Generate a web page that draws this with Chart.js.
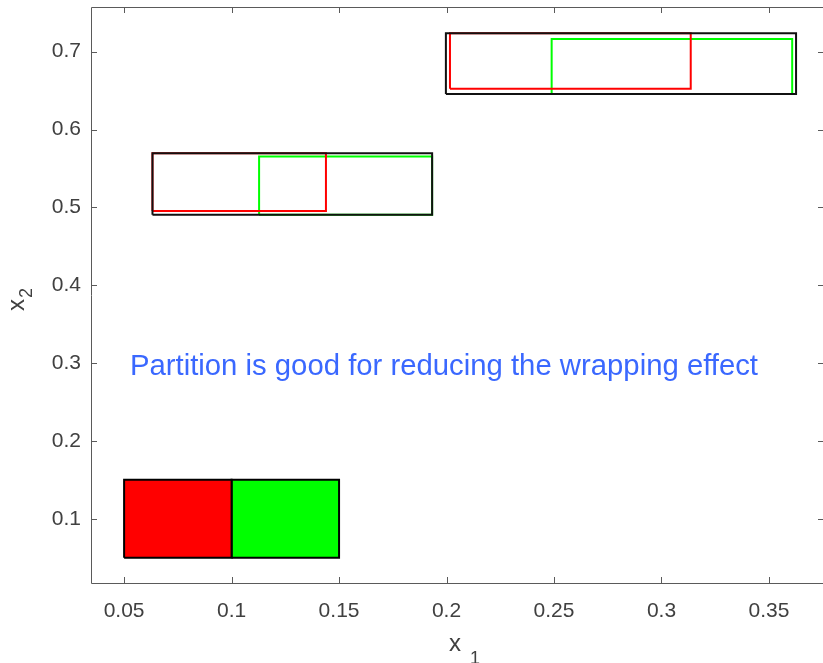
<!DOCTYPE html>
<html>
<head>
<meta charset="utf-8">
<script src="https://cdn.jsdelivr.net/npm/chart.js@4.4.1/dist/chart.umd.min.js"></script>
<style>
  html, body { margin: 0; padding: 0; background: #ffffff; overflow: hidden; }
  #wrap { width: 830px; height: 663px; }
</style>
</head>
<body>
<div id="wrap"><canvas id="c" width="830" height="663"></canvas></div>
<script>
// ---- data ----
// rectangles as [xMin, xMax, yMin, yMax]
const initialRed   = [0.05, 0.10, 0.05, 0.15];
const initialGreen = [0.10, 0.15, 0.05, 0.15];
const step1Black = [0.0632, 0.1933, 0.4905, 0.5696];
const step1Red   = [0.0632, 0.1439, 0.4955, 0.5696];
const step1Green = [0.1128, 0.1933, 0.4905, 0.5652];
const step2Black = [0.1997, 0.3626, 0.6457, 0.7236];
const step2Red   = [0.2016, 0.3136, 0.6525, 0.7236];
const step2Green = [0.2489, 0.3608, 0.6457, 0.7163];

const xTicks = [0.05, 0.1, 0.15, 0.2, 0.25, 0.3, 0.35];
const yTicks = [0.1, 0.2, 0.3, 0.4, 0.5, 0.6, 0.7];
const xRange = [0.0346, 0.3756];
const yRange = [0.0175, 0.7574];

const noteText = 'Partition is good for reducing the wrapping effect';
const notePos = { x: 0.0527, y: 0.285 };
const xTitle = ['x', '1'];
const yTitle = ['x', '2'];

// ---- styling ----
const axisColor = '#5a5a5a';
const tickColor = '#404040';
const fontFamily = '"Liberation Sans", Arial, sans-serif';

function rectPts(r) {
  return [
    { x: r[0], y: r[2] }, { x: r[1], y: r[2] },
    { x: r[1], y: r[3] }, { x: r[0], y: r[3] },
    { x: r[0], y: r[2] }
  ];
}
function outline(r, color) {
  return { data: rectPts(r), showLine: true, borderColor: color, borderWidth: 2,
           pointRadius: 0, fill: false, tension: 0 };
}
function filled(r, color) {
  return { data: rectPts(r), showLine: true, borderColor: '#000000', borderWidth: 2,
           backgroundColor: color, pointRadius: 0, fill: 'shape', tension: 0 };
}

const framePlugin = {
  id: 'frame',
  afterDatasetsDraw(chart) {
    const { ctx, chartArea: a, scales: { x, y } } = chart;
    ctx.save();
    ctx.strokeStyle = axisColor;
    ctx.lineWidth = 1;
    ctx.beginPath();
    ctx.rect(a.left + 0.5, a.top + 0.5, a.right - a.left, a.bottom - a.top);
    const tl = 6;
    xTicks.forEach(v => {
      const p = Math.round(x.getPixelForValue(v)) + 0.5;
      ctx.moveTo(p, a.bottom); ctx.lineTo(p, a.bottom - tl);
      ctx.moveTo(p, a.top); ctx.lineTo(p, a.top + tl);
    });
    yTicks.forEach(v => {
      const p = Math.round(y.getPixelForValue(v)) + 0.5;
      ctx.moveTo(a.left, p); ctx.lineTo(a.left + tl, p);
      ctx.moveTo(a.right, p); ctx.lineTo(a.right - tl, p);
    });
    ctx.stroke();

    // annotation text
    ctx.fillStyle = '#3a68ff';
    ctx.font = '29.3px ' + fontFamily;
    ctx.textAlign = 'left';
    ctx.textBaseline = 'alphabetic';
    ctx.fillText(noteText, x.getPixelForValue(notePos.x), y.getPixelForValue(notePos.y));

    // axis titles with subscripts
    ctx.fillStyle = tickColor;
    ctx.textBaseline = 'alphabetic';
    ctx.font = '24px ' + fontFamily;
    ctx.textAlign = 'left';
    ctx.fillText(xTitle[0], 449, 651);
    ctx.font = '18px ' + fontFamily;
    ctx.fillText(xTitle[1], 470, 664);
    ctx.translate(24, 311);
    ctx.rotate(-Math.PI / 2);
    ctx.font = '24px ' + fontFamily;
    ctx.fillText(yTitle[0], 0, 0);
    ctx.font = '18px ' + fontFamily;
    ctx.fillText(yTitle[1], 13, 8);
    ctx.restore();
  }
};

new Chart(document.getElementById('c'), {
  type: 'scatter',
  data: {
    datasets: [
      outline(step1Black, '#111111'),
      outline(step2Black, '#111111'),
      outline(step1Red, '#ff0000'),
      outline(step2Red, '#ff0000'),
      outline(step1Green, '#00ff00'),
      outline(step2Green, '#00ff00'),
      filled(initialRed, '#ff0000'),
      filled(initialGreen, '#00ff00')
    ]
  },
  options: {
    responsive: false,
    animation: false,
    events: [],
    layout: { padding: { top: 7, right: 6, left: 0, bottom: 0 } },
    plugins: { legend: { display: false }, tooltip: { enabled: false } },
    scales: {
      x: {
        type: 'linear', min: xRange[0], max: xRange[1],
        grid: { display: false, drawTicks: false },
        border: { display: false },
        afterBuildTicks: s => { s.ticks = xTicks.map(v => ({ value: v })); },
        afterFit: s => { s.height = 80; s.paddingLeft = 0; s.paddingRight = 0; },
        ticks: { autoSkip: false, maxRotation: 0, padding: 16, color: tickColor,
                 font: { family: fontFamily, size: 21 }, callback: v => String(v) }
      },
      y: {
        type: 'linear', min: yRange[0], max: yRange[1],
        grid: { display: false, drawTicks: false },
        border: { display: false },
        afterBuildTicks: s => { s.ticks = yTicks.map(v => ({ value: v })); },
        afterFit: s => { s.width = 91; s.paddingTop = 0; s.paddingBottom = 0; },
        ticks: { autoSkip: false, padding: 10, color: tickColor,
                 font: { family: fontFamily, size: 21 }, callback: v => String(v) }
      }
    }
  },
  plugins: [framePlugin]
});
</script>
</body>
</html>
